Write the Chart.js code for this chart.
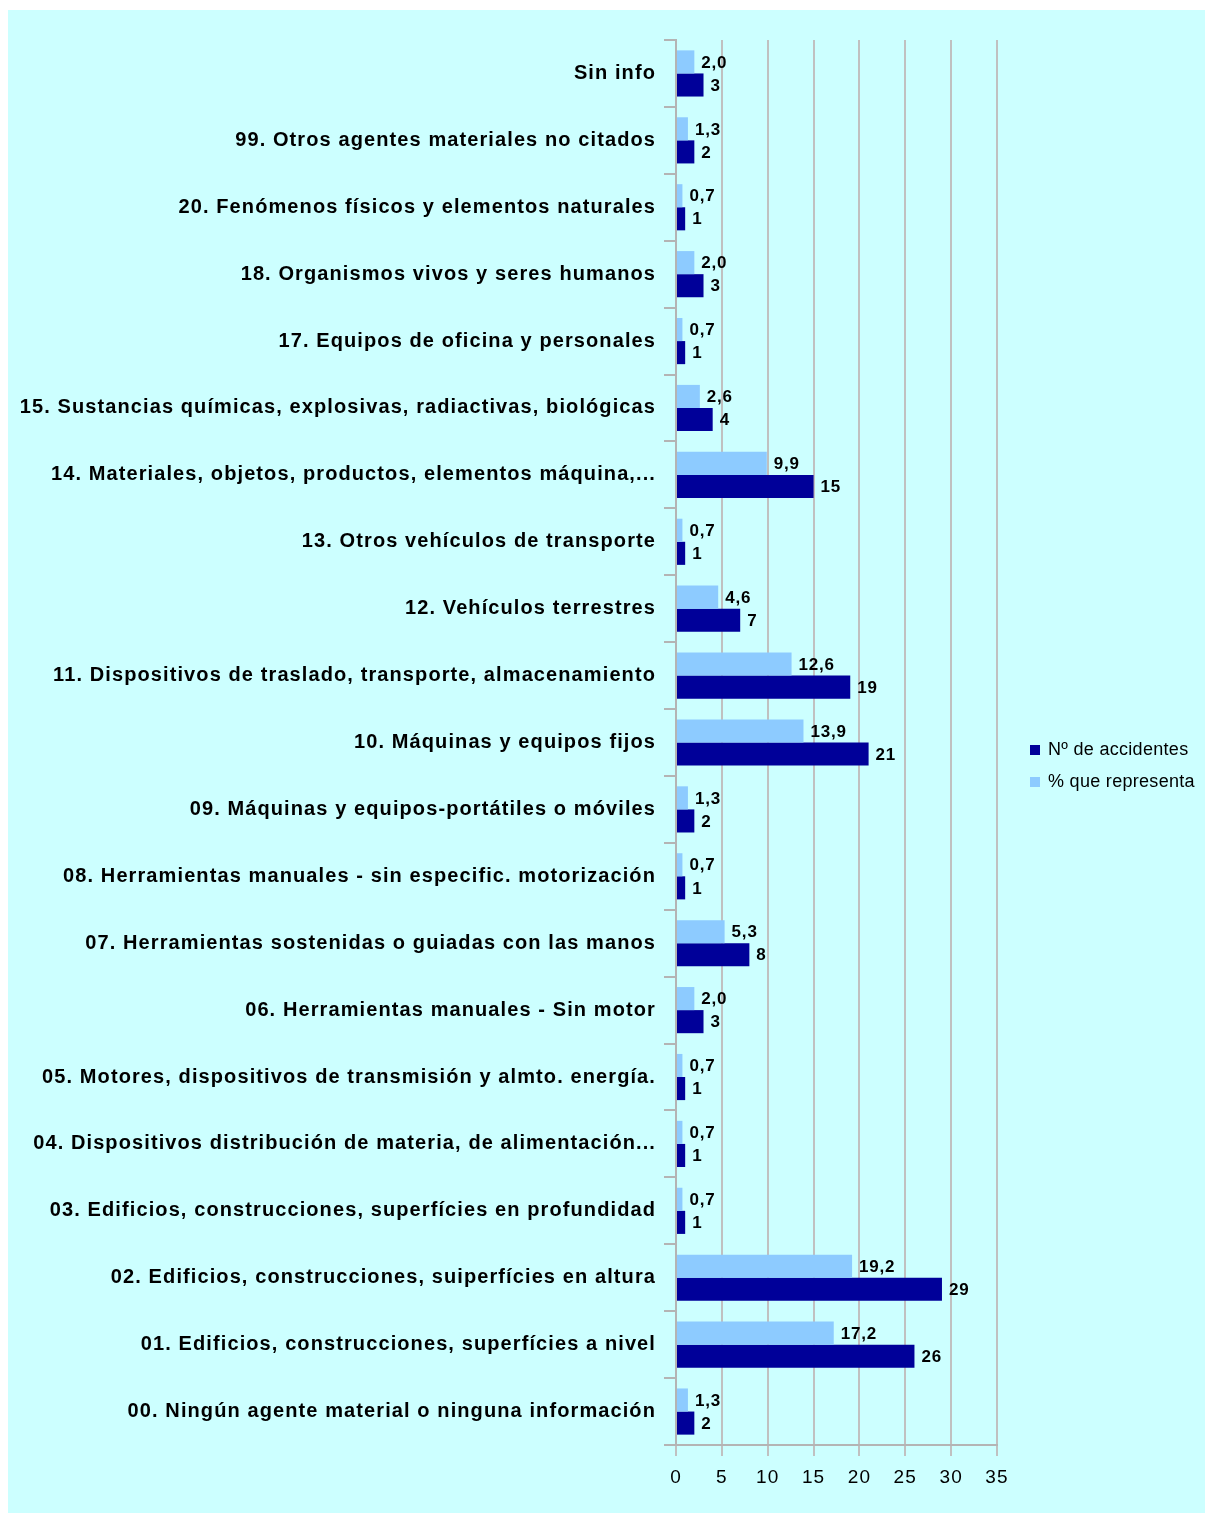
<!DOCTYPE html>
<html>
<head>
<meta charset="utf-8">
<script src="https://cdn.jsdelivr.net/npm/chart.js@4.4.0/dist/chart.umd.min.js"></script>
<style>
  html, body { margin: 0; padding: 0; background: #ffffff; }
  #wrap { width: 1205px; height: 1513px; }
</style>
</head>
<body>
<div id="wrap"><canvas id="myChart" width="1205" height="1513"></canvas></div>
<script>
// categories, top to bottom as in the original
var categorias = [
    'Sin info',
    '99. Otros agentes materiales no citados',
    '20. Fenómenos físicos y elementos naturales',
    '18. Organismos vivos y seres humanos',
    '17. Equipos de oficina y personales',
    '15. Sustancias químicas, explosivas, radiactivas, biológicas',
    '14. Materiales, objetos, productos, elementos máquina,...',
    '13. Otros vehículos de transporte',
    '12. Vehículos terrestres',
    '11. Dispositivos de traslado, transporte, almacenamiento',
    '10. Máquinas y equipos fijos',
    '09. Máquinas y equipos-portátiles o móviles',
    '08. Herramientas manuales - sin especific. motorización',
    '07. Herramientas sostenidas o guiadas con las manos',
    '06. Herramientas manuales - Sin motor',
    '05. Motores, dispositivos de transmisión y almto. energía.',
    '04. Dispositivos distribución de materia, de alimentación...',
    '03. Edificios, construcciones, superfícies en profundidad',
    '02. Edificios, construcciones, suiperfícies en altura',
    '01. Edificios, construcciones, superfícies a nivel',
    '00. Ningún agente material o ninguna información'
];

var numAccidentes = [3, 2, 1, 3, 1, 4, 15, 1, 7, 19, 21, 2, 1, 8, 3, 1, 1, 1, 29, 26, 2];
var porcentaje = [2.0, 1.3, 0.7, 2.0, 0.7, 2.6, 9.9, 0.7, 4.6, 12.6, 13.9, 1.3, 0.7, 5.3, 2.0, 0.7, 0.7, 0.7, 19.2, 17.2, 1.3];

var xTicks = [0, 5, 10, 15, 20, 25, 30, 35];

var colorNum = '#000099';
var colorPct = '#8DCBFF';
var fondo = '#CCFFFF';

// panel background + wider letter spacing like the original
var fondoPlugin = {
    id: 'fondo',
    beforeDraw: function(chart){
        var ctx = chart.ctx;
        ctx.save();
        ctx.fillStyle = '#ffffff';
        ctx.fillRect(0, 0, chart.width, chart.height);
        ctx.fillStyle = fondo;
        ctx.fillRect(8, 10, chart.width - 8, chart.height - 10);
        ctx.restore();
        ctx.letterSpacing = '1.1px';
    }
};

// value labels next to each bar
var etiquetasPlugin = {
    id: 'etiquetas',
    afterDatasetsDraw: function(chart){
        var ctx = chart.ctx;
        ctx.save();
        ctx.letterSpacing = '0.8px';
        ctx.font = 'bold 17px "Liberation Sans", Arial, sans-serif';
        ctx.fillStyle = '#000000';
        ctx.textAlign = 'left';
        ctx.textBaseline = 'middle';
        chart.data.datasets.forEach(function(ds, di){
            var meta = chart.getDatasetMeta(di);
            meta.data.forEach(function(bar, i){
                var v = ds.data[i];
                var txt = di === 0 ? v.toFixed(1).replace('.', ',') : String(v);
                ctx.fillText(txt, bar.x + 7, bar.y + 1);
            });
        });
        ctx.restore();
    }
};

// legend on the right
var leyendaPlugin = {
    id: 'leyenda',
    afterDraw: function(chart){
        var ctx = chart.ctx;
        var items = [
            {t: 'Nº de accidentes', c: colorNum},
            {t: '% que representa', c: colorPct}
        ];
        ctx.save();
        ctx.letterSpacing = '0.3px';
        ctx.font = '18px "Liberation Sans", Arial, sans-serif';
        ctx.textBaseline = 'middle';
        ctx.textAlign = 'left';
        items.forEach(function(it, k){
            var y = 750 + k * 32;
            ctx.fillStyle = it.c;
            ctx.fillRect(1030, y - 5, 10, 10);
            ctx.fillStyle = '#000000';
            ctx.fillText(it.t, 1048, y);
        });
        ctx.restore();
    }
};

document.addEventListener('DOMContentLoaded', drawChart);

function drawChart(){
    var ctx = document.getElementById('myChart').getContext('2d');
    new Chart(ctx, {
        type: 'bar',
        data: {
            labels: categorias,
            datasets: [{
                label: '% que representa',
                backgroundColor: colorPct,
                data: porcentaje
            },
            {
                label: 'Nº de accidentes',
                backgroundColor: colorNum,
                data: numAccidentes
            }]
        },
        options: {
            indexAxis: 'y',
            responsive: false,
            animation: {duration: 0},
            layout: {padding: {left: 8, top: 40, right: 208, bottom: 13}},
            datasets: {bar: {categoryPercentage: 0.69, barPercentage: 1.0}},
            plugins: {
                legend: {display: false},
                tooltip: {enabled: false}
            },
            scales: {
                x: {
                    min: 0,
                    max: 35,
                    afterBuildTicks: function(axis){
                        axis.ticks = xTicks.map(function(v){ return {value: v}; });
                    },
                    afterFit: function(scale){ scale.height = 55; },
                    grid: {color: '#C0C0C0', lineWidth: 2, tickLength: 11},
                    border: {color: '#B4B4B4', width: 2},
                    ticks: {
                        color: '#000000',
                        padding: 10,
                        font: {family: '"Liberation Sans", Arial, sans-serif', size: 19}
                    }
                },
                y: {
                    afterFit: function(scale){ scale.width = 668; },
                    grid: {drawOnChartArea: false, color: '#B4B4B4', lineWidth: 2, tickLength: 12, offset: true},
                    border: {color: '#B4B4B4', width: 2},
                    ticks: {
                        color: '#000000',
                        padding: 8,
                        autoSkip: false,
                        font: {family: '"Liberation Sans", Arial, sans-serif', size: 20, weight: 'bold'}
                    }
                }
            }
        },
        plugins: [fondoPlugin, etiquetasPlugin, leyendaPlugin]
    });
}
</script>
</body>
</html>
